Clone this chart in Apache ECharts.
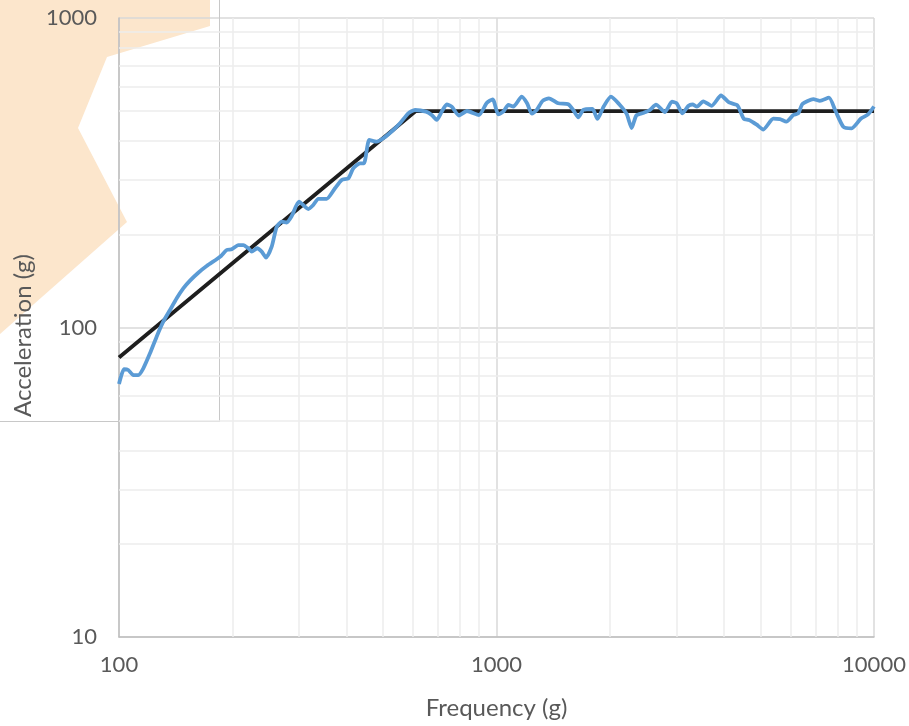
<!DOCTYPE html>
<html>
<head>
<meta charset="utf-8">
<script src="https://cdn.jsdelivr.net/npm/echarts@6/dist/echarts.min.js"></script>
<style>html,body{margin:0;padding:0;background:#fff}#c{width:909px;height:726px}</style>
</head>
<body>
<div id="c"></div>
<script>
// Measured response (blue)
const measFreq = [100,103.1,105.8,109.1,112.5,116.0,120.8,125.8,131.0,136.5,142.2,148.0,154.2,162.2,170.7,181.4,186.3,192.9,198.9,207.1,213.5,220.1,224.7,232.1,238.8,245.2,253.8,261.7,269.8,278.1,286.8,299.8,317.3,327.1,337.3,355.0,373.4,389.0,405.0,417.5,434.9,445.6,460.3,481.5,501.3,532.9,555.1,583.9,608.3,650.5,673.5,694.4,715.9,738.1,761.0,795.5,835.3,898.7,941.9,977.1,1011,1042,1075,1108,1166,1205,1240,1278,1324,1377,1458,1549,1597,1647,1698,1796,1851,1926,2010,2111,2212,2281,2346,2458,2550,2645,2795,2916,3001,3109,3221,3305,3397,3530,3716,3933,4130,4349,4519,4665,4890,5090,5410,5636,5857,6113,6302,6466,6906,7194,7600,7907,8292,8729,9239,9641,10000];
const measAcc = [65.7,73.3,72.9,70.2,70.2,73.8,82.5,93.4,104.4,113.9,124.3,133.8,141.7,150.3,158.0,166.1,170.2,178.0,178.9,184.7,184.7,180.3,175.8,180.3,175.8,168.3,182.4,211.7,219.7,218.4,229.3,255.0,241.4,248.8,260.5,260.5,281.7,299.6,303.4,326.9,339.3,339.3,403.5,398.4,408.6,434.6,456.8,492.1,504.4,498.1,486.0,468.3,498.1,525.5,517.0,484.2,500.7,486.0,531.4,546.2,488.0,498.1,523.6,517.0,556.9,530.2,490.8,504.4,539.3,550.3,530.2,526.3,504.4,477.1,504.4,508.2,471.8,519.6,556.9,527.5,489.7,441.1,484.2,494.4,504.4,524.7,497.0,536.5,530.2,492.1,519.6,525.5,517.0,538.1,520.4,561.9,533.4,521.6,472.5,468.3,452.1,436.2,472.8,471.1,462.4,486.0,492.1,527.5,546.6,540.1,552.7,500.7,445.5,440.2,473.5,488.0,517.8];
// Reference profile (black)
const refFreq = [100, 610, 10000];
const refAcc = [80, 500, 500];
// Axis ticks
const xMin = 100, xMax = 10000, yMin = 10, yMax = 1000;
const xMinorGrid = [200,300,400,500,600,700,800,900,2000,3000,4000,5000,6000,7000,8000,9000];
const yMinorGrid = [20,30,40,50,60,70,80,90,200,300,400,500,600,700,800,900];
const xTitle = 'Frequency (g)';
const yTitle = 'Acceleration (g)';

const FONT = 'Lato';
const TXT = '#595959';
const chart = echarts.init(document.getElementById('c'), null, {renderer: 'canvas'});
const zip = (a, b) => a.map((v, i) => [v, b[i]]);
const minorLines = xMinorGrid.map(v => ({xAxis: v})).concat(yMinorGrid.map(v => ({yAxis: v})));

chart.setOption({
  animation: false,
  backgroundColor: '#ffffff',
  textStyle: {fontFamily: FONT},
  grid: {left: 119, right: 35, top: 18, bottom: 89, containLabel: false},
  graphic: [
    {type: 'polygon', z: -10, silent: true,
     shape: {points: [[0,0],[210,0],[210,26],[107,57],[78,128],[127,222],[0,334]]},
     style: {fill: '#FCE6CC'}},
    {type: 'line', z: 1, silent: true, shape: {x1: 219.5, y1: 0, x2: 219.5, y2: 422}, style: {stroke: '#C8C8C8', lineWidth: 1}},
    {type: 'line', z: 1, silent: true, shape: {x1: 0, y1: 421.5, x2: 219.5, y2: 421.5}, style: {stroke: '#C8C8C8', lineWidth: 1}}
  ],
  xAxis: {
    type: 'log', logBase: 10, min: xMin, max: xMax,
    name: xTitle, nameLocation: 'middle', nameGap: 59,
    nameTextStyle: {color: TXT, fontSize: 24, fontFamily: FONT},
    axisLine: {show: true, lineStyle: {color: '#BFBFBF', width: 1.5}},
    axisTick: {show: false},
    axisLabel: {color: TXT, fontSize: 22, fontFamily: FONT, margin: 17, formatter: v => String(Math.round(v))},
    splitLine: {show: true, lineStyle: {color: '#D9D9D9', width: 1.5}}
  },
  yAxis: {
    type: 'log', logBase: 10, min: yMin, max: yMax,
    name: yTitle, nameLocation: 'middle', nameGap: 82,
    nameTextStyle: {color: TXT, fontSize: 24, fontFamily: FONT, padding: [0, 16, 0, 0]},
    axisLine: {show: true, lineStyle: {color: '#BFBFBF', width: 1.5}},
    axisTick: {show: false},
    axisLabel: {color: TXT, fontSize: 22, fontFamily: FONT, margin: 22, formatter: v => String(Math.round(v))},
    splitLine: {show: true, lineStyle: {color: '#D9D9D9', width: 1.5}}
  },
  series: [
    {type: 'line', z: 1, data: zip(refFreq, refAcc), symbol: 'none', silent: true,
     lineStyle: {opacity: 0},
     markLine: {z: 1, silent: true, symbol: ['none','none'], label: {show: false},
       lineStyle: {color: '#EDEDED', width: 1.5, type: 'solid'}, data: minorLines, animation: false}},
    {type: 'line', z: 3, data: zip(refFreq, refAcc), symbol: 'none', silent: true,
     lineStyle: {color: '#1E1E1E', width: 3.8}},
    {type: 'line', z: 4, data: zip(measFreq, measAcc), symbol: 'none', silent: true, smooth: 0.2,
     lineStyle: {color: '#5B9BD5', width: 3.8}}
  ]
});
</script>
</body>
</html>
